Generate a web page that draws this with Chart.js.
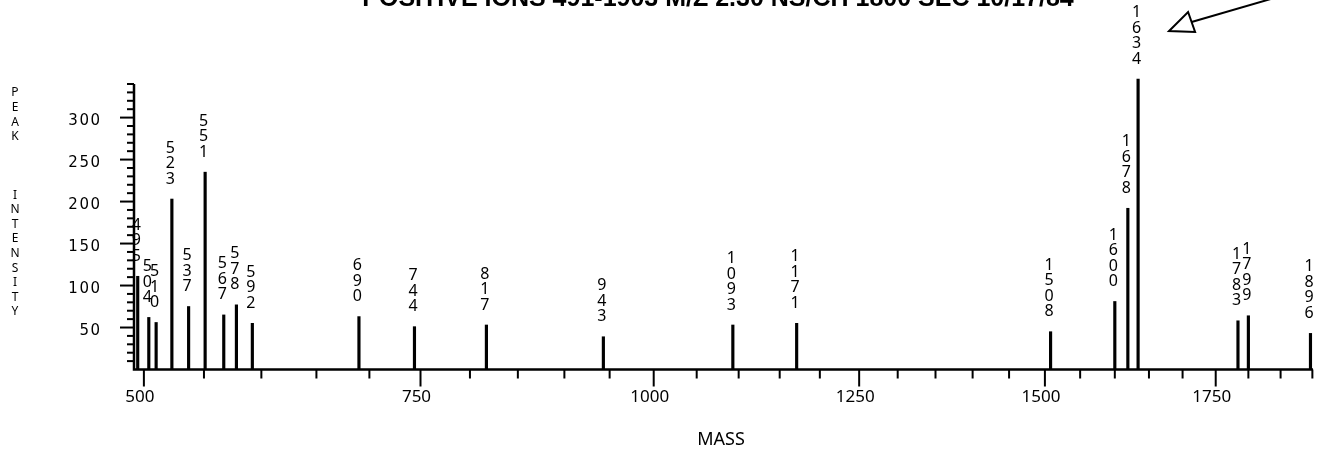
<!DOCTYPE html>
<html>
<head>
<meta charset="utf-8">
<title>Positive ions 491-1903</title>
<script src="https://cdn.jsdelivr.net/npm/chart.js@4"></script>
<style>
  html, body { margin: 0; padding: 0; background: #fff; }
  #grafico { display: block; }
</style>
</head>
<body>
<canvas id="grafico" width="1340" height="455"></canvas>
<script>
// Dados lidos do espectro (posição no eixo de massa, rótulo impresso, intensidade)
const peakMass = [495, 504, 510, 523, 537, 551, 567, 578, 592, 690, 744, 817, 943, 1093, 1171, 1508, 1600, 1619, 1634, 1784, 1800, 1897];
const peakLabel = ['495', '504', '510', '523', '537', '551', '567', '578', '592', '690', '744', '817', '943', '1093', '1171', '1508', '1600', '1678', '1634', '1783', '1799', '1896'];
const peakIntensity = [111, 62, 56, 203, 75, 235, 65, 77, 55, 63, 51, 53, 39, 53, 55, 45, 81, 192, 346, 58, 64, 43];

const massTicks = [500, 750, 1000, 1250, 1500, 1750];
const intensityTicks = [50, 100, 150, 200, 250, 300];
const massRange = [492, 1901];
const intensityRange = [0, 340];
const massMinorStep = 50;
const intensityMinorStep = 10;

const titulo = 'POSITIVE IONS 491-1903 M/Z 2.30 NS/CH 1800 SEC 10/17/84';

// Eixo de massa em raiz quadrada (tempo de voo)
class SqrtScale extends Chart.LinearScale {
  getPixelForValue(value) {
    const a = Math.sqrt(this.min), b = Math.sqrt(this.max);
    return this.getPixelForDecimal((Math.sqrt(value) - a) / (b - a));
  }
  getValueForPixel(pixel) {
    const a = Math.sqrt(this.min), b = Math.sqrt(this.max);
    const t = a + this.getDecimalForPixel(pixel) * (b - a);
    return t * t;
  }
}
SqrtScale.id = 'sqrt';
SqrtScale.defaults = Chart.LinearScale.defaults;
Chart.register(SqrtScale);

// Desenha eixos, marcas, rótulos e anotações
const desenhoEixos = {
  id: 'desenhoEixos',
  afterDatasetsDraw(chart) {
    const ctx = chart.ctx;
    const xs = chart.scales.x, ys = chart.scales.y;
    const left = chart.chartArea.left, right = chart.chartArea.right;
    const y0 = ys.getPixelForValue(0);
    const yTop = ys.getPixelForValue(intensityRange[1]);

    ctx.save();
    ctx.strokeStyle = '#000';
    ctx.fillStyle = '#000';

    // linhas dos eixos
    ctx.lineWidth = 2.5;
    ctx.beginPath();
    ctx.moveTo(left, yTop);
    ctx.lineTo(left, y0);
    ctx.lineTo(right, y0);
    ctx.stroke();

    // marcas do eixo y
    ctx.lineWidth = 2;
    for (let v = intensityMinorStep; v <= intensityRange[1]; v += intensityMinorStep) {
      const y = ys.getPixelForValue(v);
      const len = v % 50 === 0 ? 14 : 7;
      ctx.beginPath();
      ctx.moveTo(left - len, y);
      ctx.lineTo(left, y);
      ctx.stroke();
    }

    // marcas do eixo x
    for (let m = 500; m <= massRange[1]; m += massMinorStep) {
      const x = xs.getPixelForValue(m);
      const len = m % 250 === 0 ? 17 : 9;
      ctx.beginPath();
      ctx.moveTo(x, y0);
      ctx.lineTo(x, y0 + len);
      ctx.stroke();
    }

    // rótulos do eixo x
    ctx.font = '17px "Noto Sans"';
    ctx.textAlign = 'center';
    ctx.textBaseline = 'middle';
    massTicks.forEach(m => {
      ctx.fillText(String(m), xs.getPixelForValue(m) - 4, 397.5);
    });
    ctx.font = '18px "Noto Sans"';
    ctx.fillText('MASS', 721, 440);

    // rótulos do eixo y
    ctx.font = '15px "DejaVu Sans"';
    ctx.textAlign = 'right';
    ctx.letterSpacing = '1.5px';
    intensityTicks.forEach(v => {
      ctx.fillText(String(v), 101.5, ys.getPixelForValue(v) + 3.5);
    });
    ctx.letterSpacing = '0px';

    // título vertical
    ctx.font = '12px "Noto Sans"';
    ctx.textAlign = 'center';
    const vertical = 'PEAK   INTENSITY';
    for (let i = 0; i < vertical.length; i++) {
      if (vertical[i] !== ' ') ctx.fillText(vertical[i], 15, 93 + i * 14.6);
    }

    // rótulos dos picos (dígitos empilhados)
    ctx.font = '16px "Noto Sans"';
    peakMass.forEach((m, i) => {
      const x = xs.getPixelForValue(m) - 1.5;
      const top = ys.getPixelForValue(peakIntensity[i]);
      const txt = peakLabel[i];
      for (let k = 0; k < txt.length; k++) {
        const y = top - 20 - (txt.length - 1 - k) * 15.5;
        ctx.fillText(txt[k], x, y);
      }
    });

    // título do gráfico (cortado no topo)
    ctx.font = 'bold 25px "Liberation Sans"';
    ctx.textBaseline = 'alphabetic';
    ctx.fillText(titulo, 718, 6);

    // seta apontando para o pico maior
    const iMax = peakIntensity.indexOf(Math.max(...peakIntensity));
    const px = xs.getPixelForValue(peakMass[iMax]);
    ctx.lineWidth = 2;
    ctx.lineJoin = 'miter';
    ctx.beginPath();
    ctx.moveTo(px + 31, 31);
    ctx.lineTo(px + 50, 12);
    ctx.lineTo(px + 57, 32);
    ctx.closePath();
    ctx.stroke();
    ctx.beginPath();
    ctx.moveTo(px + 53.5, 22);
    ctx.lineTo(px + 260, -38);
    ctx.stroke();

    ctx.restore();
  }
};

const grafico = new Chart(document.getElementById('grafico').getContext('2d'), {
  type: 'bar',
  data: {
    datasets: [{
      label: 'Peak intensity',
      data: peakMass.map((m, i) => ({ x: m, y: peakIntensity[i] })),
      backgroundColor: '#000',
      borderWidth: 0,
      barThickness: 2.5,
      clip: false
    }]
  },
  options: {
    responsive: false,
    animation: false,
    events: [],
    layout: { padding: { left: 134, right: 27, top: 84, bottom: 85.5 } },
    plugins: {
      legend: { display: false },
      tooltip: { enabled: false }
    },
    scales: {
      x: { type: 'sqrt', display: false, min: massRange[0], max: massRange[1] },
      y: { type: 'linear', display: false, min: intensityRange[0], max: intensityRange[1] }
    }
  },
  plugins: [desenhoEixos]
});
</script>
</body>
</html>
